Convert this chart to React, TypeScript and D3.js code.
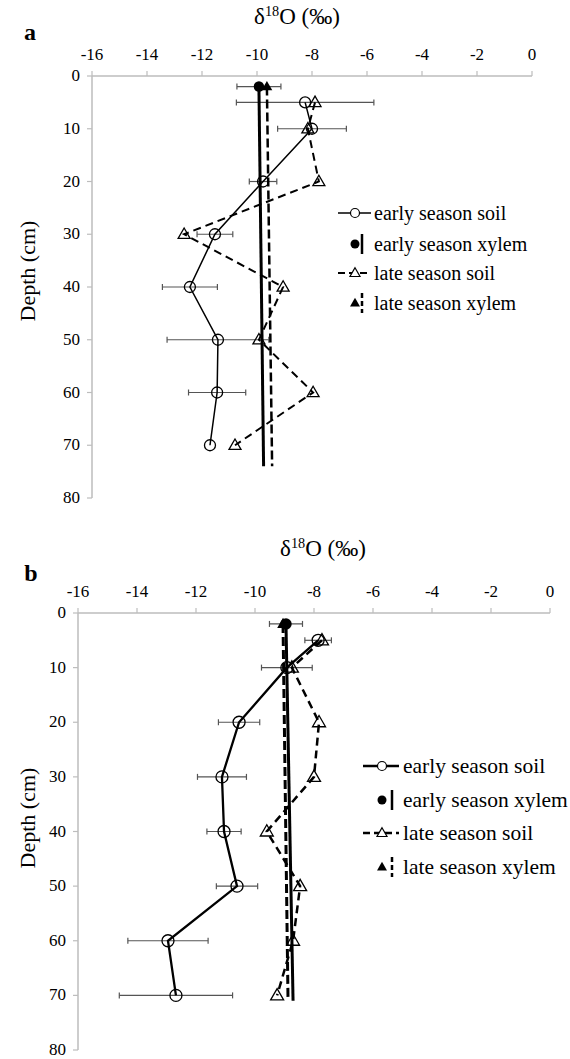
import React from "react";
import * as d3 from "d3";

// ---------- data ----------
const depths = [5, 10, 20, 30, 40, 50, 60, 70];
const xTicks = [-16, -14, -12, -10, -8, -6, -4, -2, 0];
const yTicks = [0, 10, 20, 30, 40, 50, 60, 70, 80];
const legendLabels = ["early season soil", "early season xylem", "late season soil", "late season xylem"];

// panel a
const earlySoilA = [-8.25, -8.0, -9.78, -11.53, -12.44, -11.42, -11.45, -11.71];
const earlySoilErrA = [2.5, 1.25, 0.5, 0.65, 1.0, 1.85, 1.04, 0];
const lateSoilA = [-7.89, -8.15, -7.75, -12.65, -9.05, -9.93, -7.96, -10.8];
const xylemDepthsA = [2, 74];
const earlyXylemA = [-9.93, -9.76];
const earlyXylemErrA = 0.8;
const lateXylemA = [-9.64, -9.45];

// panel b
const earlySoilB = [-7.86, -8.92, -10.54, -11.12, -11.05, -10.61, -12.95, -12.68];
const earlySoilErrB = [0.45, 0.86, 0.7, 0.83, 0.58, 0.7, 1.36, 1.92];
const lateSoilB = [-7.73, -8.75, -7.83, -8.0, -9.6, -8.47, -8.71, -9.25];
const xylemDepthsB = [2, 71];
const earlyXylemB = [-8.95, -8.71];
const earlyXylemErrB = 0.56;
const lateXylemB = [-9.05, -8.88];

const FONT = "Liberation Serif, Times New Roman, serif";
const AXIS = "#bdbdbd";
const ERR = "#555";

type Cfg = {
  letter: string;
  x0: number; x1: number; y0: number; y1: number;
  letterPos: [number, number];
  titlePos: [number, number];
  depthLabel: [number, number];
  tickFont: number;
  titleFont: number;
  earlySoil: number[]; earlySoilErr: number[]; lateSoil: number[];
  xylemDepths: number[]; earlyXylem: number[]; earlyXylemErr: number; lateXylem: number[];
  soilW: number; lateW: number; xylemW: number; lateXylemW: number;
  r: number; tri: number;
  legend: { lineX0: number; lineX1: number; symX: number; barX: number; textX: number; ys: number[]; font: number };
};

function triPath(cx: number, cy: number, s: number) {
  const h = s * 0.87;
  return `M${cx},${cy - h * 0.6}L${cx + s / 2},${cy + h * 0.4}L${cx - s / 2},${cy + h * 0.4}Z`;
}

function Panel({ c }: { c: Cfg }) {
  const x = d3.scaleLinear().domain([-16, 0]).range([c.x0, c.x1]);
  const y = d3.scaleLinear().domain([0, 80]).range([c.y0, c.y1]);
  const line = d3.line<[number, number]>().x((p) => x(p[0])).y((p) => y(p[1]));
  const es: [number, number][] = depths.map((d, i) => [c.earlySoil[i], d]);
  const ls: [number, number][] = depths.map((d, i) => [c.lateSoil[i], d]);
  const ex: [number, number][] = c.xylemDepths.map((d, i) => [c.earlyXylem[i], d]);
  const lx: [number, number][] = c.xylemDepths.map((d, i) => [c.lateXylem[i], d]);
  const cap = 3;
  const errBar = (v: number, e: number, d: number, key: string) =>
    e > 0 ? (
      <g key={key} stroke={ERR} strokeWidth={1.2}>
        <line x1={x(v - e)} x2={x(v + e)} y1={y(d)} y2={y(d)} />
        <line x1={x(v - e)} x2={x(v - e)} y1={y(d) - cap} y2={y(d) + cap} />
        <line x1={x(v + e)} x2={x(v + e)} y1={y(d) - cap} y2={y(d) + cap} />
      </g>
    ) : null;
  const L = c.legend;
  return (
    <g style={{ fontFamily: FONT }} fill="#000">
      {/* letter */}
      <text x={c.letterPos[0]} y={c.letterPos[1]} fontSize={24} fontWeight="bold" textAnchor="middle">{c.letter}</text>
      {/* title */}
      <text x={c.titlePos[0]} y={c.titlePos[1]} fontSize={c.titleFont} textAnchor="middle">
        δ<tspan fontSize={c.titleFont * 0.62} dy={-c.titleFont * 0.36}>18</tspan>
        <tspan dy={c.titleFont * 0.36}>O (‰)</tspan>
      </text>
      {/* axes */}
      <line x1={c.x0} x2={c.x1} y1={c.y0} y2={c.y0} stroke={AXIS} strokeWidth={1.5} />
      <line x1={c.x0} x2={c.x0} y1={c.y0} y2={c.y1} stroke={AXIS} strokeWidth={1.5} />
      {xTicks.map((t) => (
        <g key={"xt" + t}>
          <line x1={x(t)} x2={x(t)} y1={c.y0} y2={c.y0 - 5} stroke={AXIS} strokeWidth={1.2} />
          <text x={x(t)} y={c.y0 - 16} fontSize={c.tickFont} textAnchor="middle">{String(t)}</text>
        </g>
      ))}
      {yTicks.map((t) => (
        <g key={"yt" + t}>
          <line x1={c.x0 - 5} x2={c.x0} y1={y(t)} y2={y(t)} stroke={AXIS} strokeWidth={1.2} />
          <text x={c.x0 - 12} y={y(t) + 5} fontSize={c.tickFont} textAnchor="end">{String(t)}</text>
        </g>
      ))}
      <text
        transform={`translate(${c.depthLabel[0]},${c.depthLabel[1]}) rotate(-90)`}
        fontSize={22}
        textAnchor="middle"
      >Depth (cm)</text>
      {/* error bars */}
      {depths.map((d, i) => errBar(c.earlySoil[i], c.earlySoilErr[i], d, "e" + i))}
      {errBar(c.earlyXylem[0], c.earlyXylemErr, c.xylemDepths[0], "ex")}
      {/* xylem lines */}
      <path d={line(ex) || ""} fill="none" stroke="#000" strokeWidth={c.xylemW} />
      <path d={line(lx) || ""} fill="none" stroke="#000" strokeWidth={c.lateXylemW} strokeDasharray="9,4" />
      {/* soil lines */}
      <path d={line(es) || ""} fill="none" stroke="#000" strokeWidth={c.soilW} />
      <path d={line(ls) || ""} fill="none" stroke="#000" strokeWidth={c.lateW} strokeDasharray="8,5" />
      {/* markers */}
      {es.map((p, i) => (
        <circle key={"ec" + i} cx={x(p[0])} cy={y(p[1])} r={c.r} fill="none" stroke="#000" strokeWidth={1.3} />
      ))}
      {ls.map((p, i) => (
        <path key={"lt" + i} d={triPath(x(p[0]), y(p[1]), c.tri)} fill="none" stroke="#000" strokeWidth={1.3} />
      ))}
      <path d={triPath(x(lx[0][0]), y(lx[0][1]), c.tri * 0.9)} fill="#000" />
      <circle cx={x(ex[0][0])} cy={y(ex[0][1])} r={c.r * 0.95} fill="#000" />
      {/* legend */}
      <g>
        <line x1={L.lineX0} x2={L.lineX1} y1={L.ys[0]} y2={L.ys[0]} stroke="#000" strokeWidth={c.soilW} />
        <circle cx={L.symX} cy={L.ys[0]} r={4.5} fill="#fff" stroke="#000" strokeWidth={1.2} />
        <circle cx={L.symX} cy={L.ys[1]} r={4.5} fill="#000" />
        <line x1={L.barX} x2={L.barX} y1={L.ys[1] - 10} y2={L.ys[1] + 10} stroke="#000" strokeWidth={2.5} />
        <line x1={L.lineX0} x2={L.lineX1} y1={L.ys[2]} y2={L.ys[2]} stroke="#000" strokeWidth={c.lateW} strokeDasharray="7,4" />
        <path d={triPath(L.symX, L.ys[2], 10)} fill="#fff" stroke="#000" strokeWidth={1.2} />
        <path d={triPath(L.symX, L.ys[3], 10)} fill="#000" />
        <line x1={L.barX} x2={L.barX} y1={L.ys[3] - 10} y2={L.ys[3] + 10} stroke="#000" strokeWidth={2.5} strokeDasharray="5,3" />
        {legendLabels.map((t, i) => (
          <text key={t} x={L.textX} y={L.ys[i] + 7} fontSize={L.font}>{t}</text>
        ))}
      </g>
    </g>
  );
}

const cfgA: Cfg = {
  letter: "a",
  x0: 92, x1: 532, y0: 76, y1: 498,
  letterPos: [30, 40],
  titlePos: [297, 24],
  depthLabel: [35, 271],
  tickFont: 17, titleFont: 23,
  earlySoil: earlySoilA, earlySoilErr: earlySoilErrA, lateSoil: lateSoilA,
  xylemDepths: xylemDepthsA, earlyXylem: earlyXylemA, earlyXylemErr: earlyXylemErrA, lateXylem: lateXylemA,
  soilW: 1.5, lateW: 2, xylemW: 3, lateXylemW: 2.5,
  r: 5.5, tri: 12,
  legend: { lineX0: 338, lineX1: 371, symX: 355, barX: 362, textX: 374, ys: [213, 244, 273, 303], font: 20 },
};

const cfgB: Cfg = {
  letter: "b",
  x0: 78, x1: 550, y0: 613, y1: 1050,
  letterPos: [31, 581],
  titlePos: [323, 556],
  depthLabel: [35, 818],
  tickFont: 17, titleFont: 23,
  earlySoil: earlySoilB, earlySoilErr: earlySoilErrB, lateSoil: lateSoilB,
  xylemDepths: xylemDepthsB, earlyXylem: earlyXylemB, earlyXylemErr: earlyXylemErrB, lateXylem: lateXylemB,
  soilW: 2.3, lateW: 2.5, xylemW: 3, lateXylemW: 3,
  r: 6, tri: 13,
  legend: { lineX0: 363, lineX1: 399, symX: 382, barX: 392, textX: 403, ys: [766, 800, 833, 867], font: 21.5 },
};

export default function App() {
  return (
    <svg
      width={570}
      height={1059}
      style={{ position: "absolute", left: 0, top: 0, background: "#fff" }}
    >
      <rect width={570} height={1059} fill="#fff" />
      <Panel c={cfgA} />
      <Panel c={cfgB} />
    </svg>
  );
}
